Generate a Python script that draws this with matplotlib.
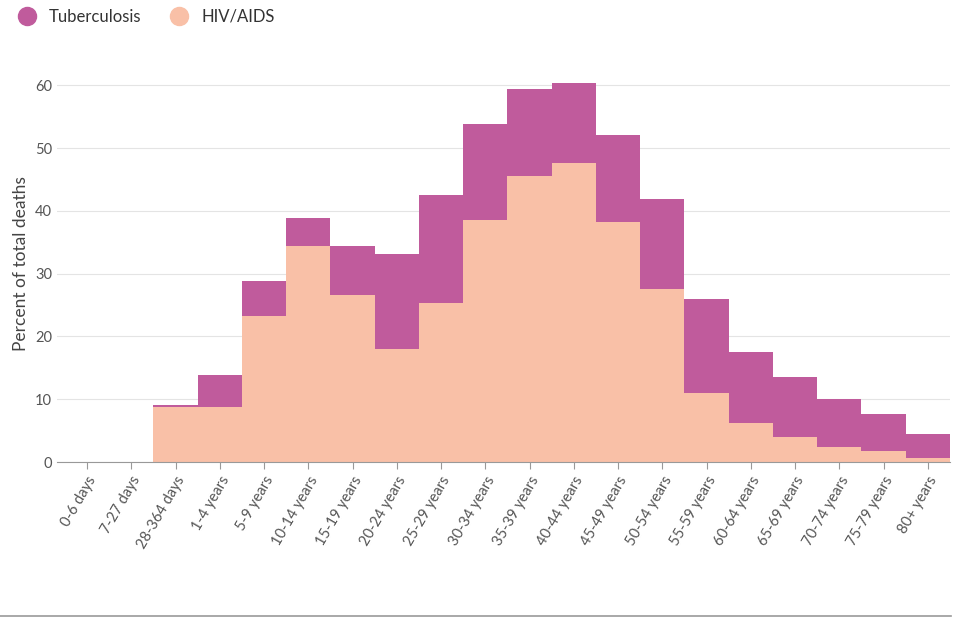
import numpy as np
import matplotlib.pyplot as plt
from matplotlib.lines import Line2D

plt.rcParams['font.family'] = ['Lato', 'DejaVu Sans']

ages = ['0-6 days', '7-27 days', '28-364 days', '1-4 years', '5-9 years', '10-14 years',
        '15-19 years', '20-24 years', '25-29 years', '30-34 years', '35-39 years',
        '40-44 years', '45-49 years', '50-54 years', '55-59 years', '60-64 years',
        '65-69 years', '70-74 years', '75-79 years', '80+ years']
hiv = [0, 0, 8.7, 8.8, 23.2, 34.4, 26.6, 18.0, 25.3, 38.5, 45.5, 47.6, 38.2, 27.5,
       11.0, 6.2, 4.0, 2.4, 1.8, 0.6]
total = [0, 0, 9.1, 13.9, 28.8, 38.9, 34.4, 33.1, 42.5, 53.8, 59.4, 60.4, 52.1, 41.9,
         26.0, 17.5, 13.5, 10.0, 7.6, 4.5]

tb_col = '#c05b9c'
hiv_col = '#f9c0a7'

fig = plt.figure(figsize=(9.54, 6.2), dpi=100)
ax = fig.add_axes([0.0597, 0.2548, 0.936, 0.64])

edges = np.arange(len(ages) + 1) - 0.5
hiv_arr = np.array(hiv)
tot_arr = np.array(total)
mask = tot_arr > 0
ax.stairs(np.where(mask, tot_arr, np.nan), edges, baseline=np.where(mask, hiv_arr, np.nan),
          fill=True, color=tb_col, lw=0)
ax.stairs(np.where(mask, hiv_arr, np.nan), edges, baseline=0, fill=True, color=hiv_col, lw=0)

ax.set_xlim(-0.68, 19.5)
ax.set_ylim(0, 63.2)
ax.set_yticks([0, 10, 20, 30, 40, 50, 60])
ax.grid(axis='y', color='#e4e4e4', lw=0.8)
ax.set_axisbelow(True)
ax.set_xticks(range(len(ages)))
ax.set_xticklabels(ages, rotation=60, ha='right', rotation_mode='anchor', color='#555555', fontsize=10.5)
ax.tick_params(axis='y', length=0, labelcolor='#555555', labelsize=10.5)
ax.tick_params(axis='x', color='#999999', length=5)
for s in ['top', 'right', 'left']:
    ax.spines[s].set_visible(False)
ax.spines['bottom'].set_color('#999999')
ax.set_ylabel('Percent of total deaths', fontsize=12.5, color='#444444')

handles = [Line2D([], [], marker='o', ls='', ms=13, color=tb_col),
           Line2D([], [], marker='o', ls='', ms=13, color=hiv_col)]
fig.legend(handles, ['Tuberculosis', 'HIV/AIDS'], loc='upper left', bbox_to_anchor=(-0.005, 1.01),
           ncol=2, frameon=False, fontsize=12, handletextpad=0.3, columnspacing=1.3,
           labelcolor='#333333')

fig.add_artist(Line2D([0, 0.997], [0.006, 0.006], color='#999999', lw=1.2))

fig.savefig('out.png')
